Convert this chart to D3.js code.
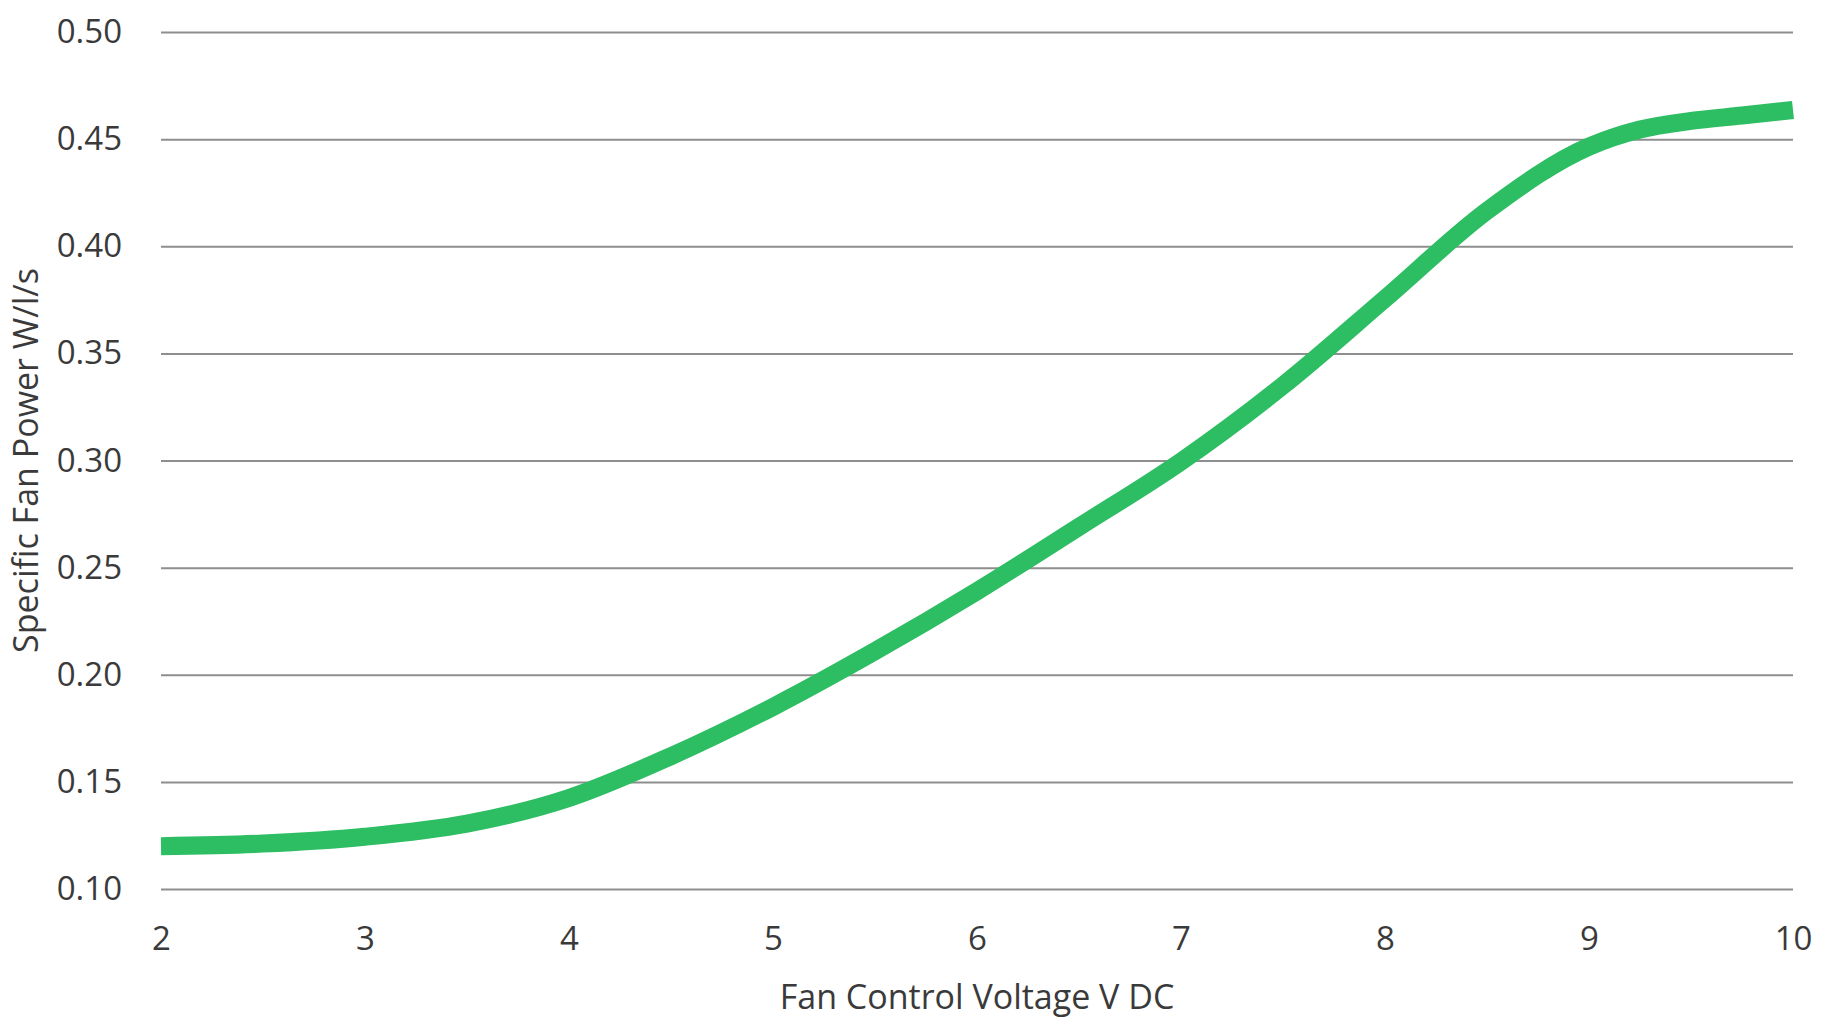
<!DOCTYPE html>
<html>
<head>
<meta charset="utf-8">
<script src="https://cdn.jsdelivr.net/npm/d3@7"></script>
<style>
  html, body { margin: 0; padding: 0; background: #ffffff; }
  svg { display: block; }
  text { font-family: "Open Sans", "Noto Sans", sans-serif; fill: #3a3a3a; }
</style>
</head>
<body>
<svg id="chart" width="1832" height="1024"></svg>
<script>
// Data
const voltage = [2, 2.5, 3, 3.5, 4, 4.5, 5, 5.5, 6, 6.5, 7, 7.5, 8, 8.5, 9, 9.25, 9.5, 9.75, 10];
const sfp     = [0.120, 0.1212, 0.1244, 0.1305, 0.1425, 0.1620, 0.1850, 0.2110, 0.2390, 0.2690, 0.2995, 0.3350, 0.3755, 0.4165, 0.4465, 0.4545, 0.4585, 0.4610, 0.4636];
const xTicks  = [2, 3, 4, 5, 6, 7, 8, 9, 10];
const yTicks  = [0.10, 0.15, 0.20, 0.25, 0.30, 0.35, 0.40, 0.45, 0.50];
const xTitle  = "Fan Control Voltage V DC";
const yTitle  = "Specific Fan Power W/l/s";

const svg = d3.select("#chart");
const plotLeft = 161, plotRight = 1793, plotTop = 32, plotBottom = 889;

const x = d3.scaleLinear().domain([2, 10]).range([plotLeft, plotRight]);
const y = d3.scaleLinear().domain([0.10, 0.50]).range([plotBottom, plotTop]);

// Horizontal gridlines via y axis
const yAxis = d3.axisLeft(y).tickValues(yTicks).tickFormat(d3.format(".2f"))
  .tickSize(-(plotRight - plotLeft)).tickPadding(39);
const gy = svg.append("g").attr("transform", `translate(${plotLeft},0)`).call(yAxis);
gy.select(".domain").remove();
gy.selectAll(".tick line").attr("stroke", "#8e8e8e").attr("stroke-width", 2);
gy.selectAll(".tick text").attr("font-size", 33).attr("fill", "#3a3a3a")
  .attr("font-family", "'Open Sans', 'Noto Sans', sans-serif");

// X axis labels
const xAxis = d3.axisBottom(x).tickValues(xTicks).tickFormat(d3.format("d"))
  .tickSize(0).tickPadding(38);
const gx = svg.append("g").attr("transform", `translate(0,${plotBottom})`).call(xAxis);
gx.select(".domain").remove();
gx.selectAll(".tick text").attr("font-size", 33).attr("fill", "#3a3a3a")
  .attr("font-family", "'Open Sans', 'Noto Sans', sans-serif");

// Line
const line = d3.line()
  .x((d, i) => x(voltage[i]))
  .y(d => y(d))
  .curve(d3.curveMonotoneX);
svg.append("path")
  .datum(sfp)
  .attr("d", line)
  .attr("fill", "none")
  .attr("stroke", "#2dbd63")
  .attr("stroke-width", 18)
  .attr("stroke-linecap", "butt")
  .attr("stroke-linejoin", "round");

// Axis titles
svg.append("text")
  .attr("x", (plotLeft + plotRight) / 2)
  .attr("y", 1000)
  .attr("text-anchor", "middle")
  .attr("dominant-baseline", "middle")
  .attr("font-size", 34)
  .text(xTitle);

svg.append("text")
  .attr("transform", `translate(29,${(plotTop + plotBottom) / 2}) rotate(-90)`)
  .attr("text-anchor", "middle")
  .attr("dominant-baseline", "middle")
  .attr("font-size", 34)
  .text(yTitle);
</script>
</body>
</html>
